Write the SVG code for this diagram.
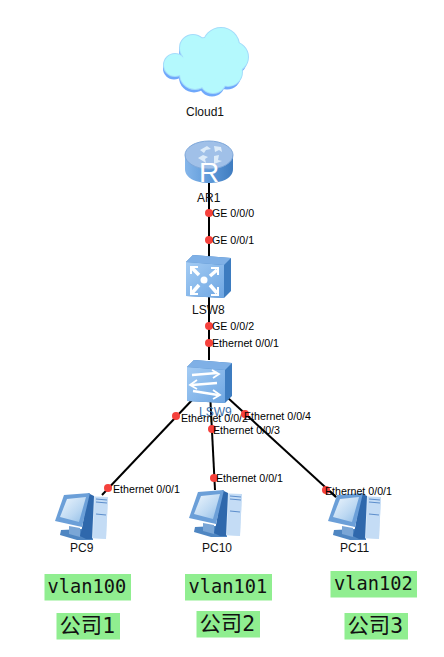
<svg xmlns="http://www.w3.org/2000/svg" width="444" height="657" viewBox="0 0 444 657">
<style>
.n{font:12px "Liberation Sans",Arial,sans-serif;fill:#111}
.p{font:10.67px "Liberation Sans",Arial,sans-serif;fill:#000}
.m{font:18.67px "DejaVu Sans Mono",monospace;fill:#111}
.c{font:21.33px "DejaVu Sans Mono","Noto Sans CJK SC",sans-serif;fill:#111}
.b{fill:#90ee90}
.l{stroke:#000;stroke-width:2;fill:none}
.d{fill:#f5413c}
</style>
<defs>
<linearGradient id="rt" x1="0" x2="1" y1="0" y2="0"><stop offset="0" stop-color="#85b6ea"/><stop offset=".5" stop-color="#5f9ad9"/><stop offset="1" stop-color="#3f7cc0"/></linearGradient>
<linearGradient id="sw" x1="0" x2="1" y1="0" y2="1"><stop offset="0" stop-color="#a4ccf4"/><stop offset="1" stop-color="#6ea6e2"/></linearGradient>
<linearGradient id="sc" x1="0" x2="1" y1="0" y2="1"><stop offset="0" stop-color="#eef6fd"/><stop offset=".6" stop-color="#bcd8f2"/><stop offset="1" stop-color="#8fbce6"/></linearGradient>
<g id="cl">
<circle cx="193" cy="48" r="13"/><circle cx="221" cy="46" r="18"/><circle cx="233" cy="57" r="15"/><circle cx="228" cy="72" r="14"/><circle cx="213" cy="80" r="13"/><circle cx="195" cy="74" r="15"/><circle cx="175" cy="65" r="11"/><circle cx="205" cy="60" r="22"/>
</g>
<symbol id="pc" width="54" height="48" viewBox="0 0 54 48" overflow="visible">
<path d="M6 37 L27 36 L38 43 L38 47 L22 47 L5 42Z" fill="#4f86c2"/>
<path d="M14 33 L25 35 L25 44 L14 41Z" fill="#7aa6d6"/>
<path d="M34 3 L53 4 L51 46 L32 45Z" fill="#d4e6f8"/>
<path d="M40 4 L53 4 L51 46 L38 45Z" fill="#c4dcf5"/>
<path d="M33 0 L39 3 L37 46 L31 46 L25 43 L27 35Z" fill="#2f68ac"/>
<path d="M9 2 L35 0 L27 34 L0 28Z" fill="#6b9fd8"/>
<path d="M12 6 L31 4 L24 29 L5 24Z" fill="url(#sc)"/>
<path d="M41 6 L52 7 M41 9 L52 10 M41 21 L51 22" stroke="#5d8ecb" stroke-width="1.200"/>
</symbol>
</defs>
<g id="connectors">
<path class="l" d="M209 180V360"/>
<path class="l" d="M194 398L102 495"/>
<path class="l" d="M210.500 402L215 490"/>
<path class="l" d="M228 398L336 497"/>
</g>
<g id="Cloud1">
<use href="#cl" x="-1" y="3.500" fill="#6fa8fb"/>
<use href="#cl" fill="#a4dcfb" stroke="#a4dcfb" stroke-width="2"/>
<use href="#cl" fill="#b4f9fd"/>
<text class="n" x="186" y="116">Cloud1</text>
</g>
<g id="AR1">
<path d="M185 155V169C185 178 196 183 209 183C222 183 233 178 233 169V155Z" fill="url(#rt)"/>
<ellipse cx="209" cy="155" rx="24" ry="14" fill="#a0c0e8" stroke="#7fa8da"/>
<path d="M200 150L207 146L211 149L206 150L204 153ZM214 146L221 147L222 152L219 150L215 152ZM198 158L203 155L208 157L205 159L206 163ZM214 156L219 155L218 160L222 161L214 164Z" fill="#dcebf9"/>
<text x="209" y="182" text-anchor="middle" style="font:28px 'Liberation Sans',sans-serif;fill:#fff">R</text>
<text class="n" x="197" y="202">AR1</text>
</g>
<g id="LSW8">
<path d="M186 262L193 255L231 258V291L224 298L186 296Z" fill="#3d7cc0"/>
<path d="M186 262L193 255L231 258L224 265Z" fill="#7fb0e6"/>
<path d="M186 262L224 265V298L186 296Z" fill="url(#sw)"/>
<circle cx="204" cy="280" r="3.500" fill="#fff"/>
<path d="M192 268L199 275M192 293L199 285M217 270L210 276M217 293L210 285" stroke="#fff" stroke-width="3.500"/>
<path d="M191 274V267H198M191 286V294H198M218 275V268H211M218 287V295H211" stroke="#fff" stroke-width="2" fill="none"/>
<text class="n" x="192" y="314">LSW8</text>
</g>
<g id="LSW9">
<path d="M187 367L194 360L232 363V396L225 403L187 401Z" fill="#3d7cc0"/>
<path d="M187 367L194 360L232 363L225 370Z" fill="#7fb0e6"/>
<path d="M187 367L225 370V403L187 401Z" fill="url(#sw)"/>
<path d="M192 375L217 373M192 385L217 383M193 391L218 395" stroke="#fff" stroke-width="2.500"/>
<path d="M212 370L219 374L213 378M197 380L190 385L197 389M213 390L220 395L213 399" stroke="#fff" stroke-width="1.800" fill="none"/>
<text class="n" x="199" y="416" style="fill:#3a6ea8">LSW9</text>
</g>
<g id="PC9"><use href="#pc" x="55" y="493"/><text class="n" x="70" y="552">PC9</text></g>
<g id="PC10"><use href="#pc" x="189" y="490"/><text class="n" x="202" y="552">PC10</text></g>
<g id="PC11"><use href="#pc" x="328" y="493"/><text class="n" x="340" y="552">PC11</text></g>
<g id="connectors-over">
<path class="l" d="M325 487L336 497"/>
</g>
<g id="ports">
<circle class="d" cx="209" cy="213" r="4"/><text class="p" x="212" y="217">GE 0/0/0</text>
<circle class="d" cx="209" cy="240" r="4"/><text class="p" x="212" y="244">GE 0/0/1</text>
<circle class="d" cx="209" cy="326" r="4"/><text class="p" x="212" y="330">GE 0/0/2</text>
<circle class="d" cx="209" cy="343" r="4"/><text class="p" x="212" y="347">Ethernet 0/0/1</text>
<circle class="d" cx="176" cy="416" r="4"/><text class="p" x="181" y="422">Ethernet 0/0/2</text>
<circle class="d" cx="245" cy="414" r="4"/><text class="p" x="244" y="420">Ethernet 0/0/4</text>
<circle class="d" cx="212" cy="429" r="4"/><text class="p" x="213" y="434">Ethernet 0/0/3</text>
<circle class="d" cx="108" cy="488" r="4"/><text class="p" x="113" y="493">Ethernet 0/0/1</text>
<circle class="d" cx="214" cy="478" r="4"/><text class="p" x="216" y="482">Ethernet 0/0/1</text>
<circle class="d" cx="326" cy="490" r="4"/><text class="p" x="325" y="495">Ethernet 0/0/1</text>
</g>
<g id="vlan100"><rect class="b" x="44.500" y="574" width="86.500" height="26.500"/><text class="m" x="47.500" y="593">vlan100</text></g>
<g id="vlan101"><rect class="b" x="185" y="574" width="87" height="26.500"/><text class="m" x="188.500" y="593">vlan101</text></g>
<g id="vlan102"><rect class="b" x="330.500" y="571" width="86.500" height="26.500"/><text class="m" x="334" y="590">vlan102</text></g>
<g id="company1"><rect class="b" x="56.500" y="613" width="63.500" height="26.500"/><text class="c" x="59.500" y="633">公司1</text></g>
<g id="company2"><rect class="b" x="196.500" y="611" width="63.500" height="26.500"/><text class="c" x="199.500" y="631">公司2</text></g>
<g id="company3"><rect class="b" x="344.500" y="613" width="63.500" height="26.500"/><text class="c" x="347.500" y="633">公司3</text></g>
</svg>
